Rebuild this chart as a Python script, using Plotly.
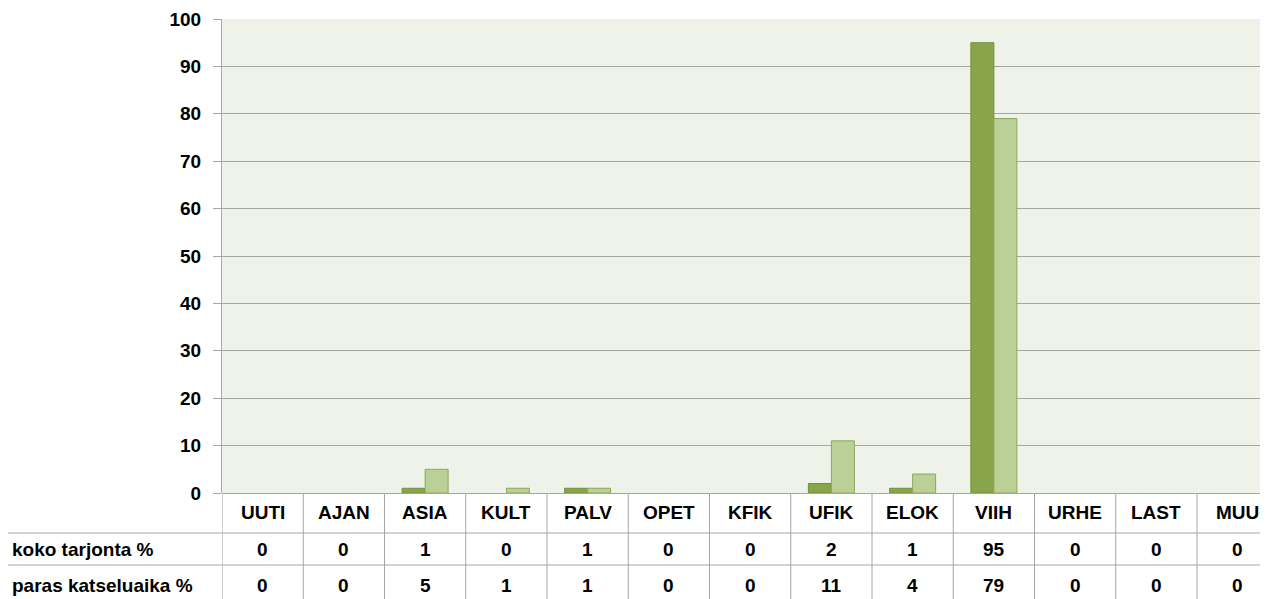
import plotly.graph_objects as go

categories = ["UUTI", "AJAN", "ASIA", "KULT", "PALV", "OPET", "KFIK", "UFIK", "ELOK", "VIIH", "URHE", "LAST", "MUU"]
koko = [0, 0, 1, 0, 1, 0, 0, 2, 1, 95, 0, 0, 0]
paras = [0, 0, 5, 1, 1, 0, 0, 11, 4, 79, 0, 0, 0]
row_names = ["koko tarjonta %", "paras katseluaika %"]

# page body has an 8px margin; figure placed at (8, 8)
OFF = 8
ML, MR, MT, MB = 222 - OFF, 15, 19 - OFF, 106
PLOT_W = 1260 - 222
PLOT_H = 493 - 19
W = ML + PLOT_W + MR
H = MT + PLOT_H + MB
x_lo = -0.5
x_hi = x_lo + PLOT_W / 81.25

def py(pix):
    # page pixel y -> paper coordinate
    return (493 - pix) / PLOT_H

def px(pix):
    return (pix - 222) / PLOT_W

FONT = "Liberation Sans, Arial, sans-serif"
FS = 19
TXT = dict(size=FS, color="black", family=FONT, weight="bold")
idx = list(range(len(categories)))

fig = go.Figure()
fig.add_trace(go.Bar(x=idx, y=koko, name=row_names[0],
                     marker=dict(color="#88A54B",
                                 line=dict(color="#72903A", width=[1 if v else 0 for v in koko]))))
fig.add_trace(go.Bar(x=idx, y=paras, name=row_names[1],
                     marker=dict(color="#BBD096",
                                 line=dict(color="#8AA85A", width=[1 if v else 0 for v in paras]))))

shapes = []
for yp in [533, 565]:
    shapes.append(dict(type="line", xref="paper", yref="paper",
                       x0=px(0), x1=1, y0=py(yp), y1=py(yp),
                       line=dict(color="#A6A6A6", width=1)))
for k in range(len(categories)):
    xb = k - 0.5
    if xb < x_lo or xb > x_hi:
        continue
    shapes.append(dict(type="line", xref="x", yref="paper",
                       x0=xb, x1=xb, y0=0, y1=py(605),
                       line=dict(color="#A6A6A6", width=1)))

annotations = []
for i, c in enumerate(categories):
    for txt, yp in [(c, 513), (str(koko[i]), 549), (str(paras[i]), 585)]:
        annotations.append(dict(x=i, y=py(yp), xref="x", yref="paper", text=txt,
                                xanchor="center", yanchor="middle",
                                showarrow=False, font=TXT))
for name, yp in zip(row_names, [549, 585]):
    annotations.append(dict(x=px(10), y=py(yp), xref="paper", yref="paper",
                            text=name, xanchor="left", yanchor="middle",
                            showarrow=False, font=TXT))

fig.update_layout(
    width=W, height=H,
    margin=dict(l=ML, r=MR, t=MT, b=MB, autoexpand=False),
    paper_bgcolor="white",
    plot_bgcolor="#EFF2E9",
    showlegend=False,
    barmode="group",
    bargap=0.434,
    bargroupgap=0,
    font=dict(family=FONT, size=FS, color="black"),
    shapes=shapes,
    annotations=annotations,
    xaxis=dict(range=[x_lo, x_hi], showticklabels=False, showgrid=False,
               zeroline=False, showline=False, ticks="", automargin=False),
    yaxis=dict(range=[0, 100], dtick=10, showgrid=True, gridcolor="#A6A6A6", gridwidth=1,
               zeroline=True, zerolinecolor="#A6A6A6", zerolinewidth=1,
               showline=True, linecolor="#A6A6A6", linewidth=1,
               ticks="outside", ticklen=8, tickcolor="#A6A6A6",
               ticklabelstandoff=8, automargin=False,
               tickfont=TXT),
)

fig.write_html("out.html")
